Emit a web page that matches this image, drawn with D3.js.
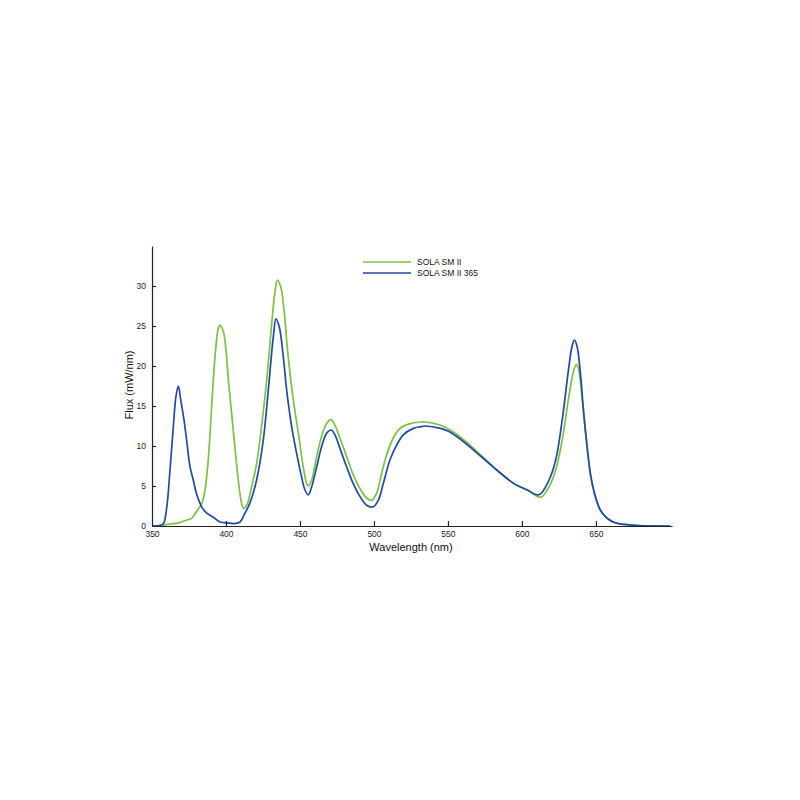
<!DOCTYPE html>
<html>
<head>
<meta charset="utf-8">
<script src="https://cdn.jsdelivr.net/npm/d3@7"></script>
<style>
  html, body { margin: 0; padding: 0; background: #fff; }
  svg { display: block; font-family: "Liberation Sans", Arial, Helvetica, sans-serif; }
</style>
</head>
<body>
<svg id="chart" width="800" height="800"></svg>
<script>
// ---- Data ----
const seriesNames = ["SOLA SM II", "SOLA SM II 365"];

const greenWavelength = [350, 357.7, 362, 367.8, 373.4, 376.8, 380, 383.6, 385.8, 388, 390.3, 392.6, 394.8, 396, 398.2, 400, 401.6, 403.8, 406, 408.3, 410.6, 412, 414, 417.3, 420.7, 424, 427.5, 430.9, 433, 434.7, 437, 439.2, 442, 445.5, 448.9, 452.2, 454.5, 455.6, 457.9, 461.3, 464.6, 468, 471, 473.6, 477, 481.5, 486, 490.5, 495, 498.4, 501.8, 505.2, 508.6, 513, 517.6, 524.3, 531, 535, 545, 550.7, 560.8, 572, 583, 594.6, 603.6, 612.7, 618.3, 622.8, 627.2, 631.7, 635.1, 636.9, 638.4, 640.6, 642.9, 645.1, 647.3, 650.7, 654, 658.5, 665.2, 680, 700];
const greenFlux = [0, 0.1, 0.25, 0.4, 0.75, 0.95, 1.8, 2.8, 4.5, 8.25, 14.9, 21.2, 24.7, 25.1, 24.3, 22, 18.25, 14.1, 9.9, 5.75, 2.8, 2.2, 2.6, 4.9, 7.8, 12.4, 18.25, 25.3, 29.1, 30.75, 29.9, 27, 21.2, 15.75, 11.6, 7.4, 5.3, 5.0, 5.75, 8.7, 11.2, 12.8, 13.3, 12.6, 11, 8.7, 6.4, 4.7, 3.5, 3.2, 4.1, 6.6, 8.9, 11, 12.2, 12.8, 13.0, 13.0, 12.6, 12.1, 10.75, 8.9, 7.0, 5.3, 4.5, 3.6, 4.9, 7, 10.75, 16.2, 19.5, 20.2, 19.5, 16.2, 12, 8.25, 5.3, 3.0, 1.7, 0.8, 0.3, 0.05, 0];

const blueWavelength = [350, 355, 357.7, 360, 362, 364.4, 366.2, 367.8, 369.4, 371.6, 373.4, 375.7, 377.9, 380, 383.6, 387, 391.4, 396, 400.5, 405, 409.5, 412.8, 416, 420.7, 425.2, 428.6, 432, 433.8, 436, 438.7, 441, 444.4, 447.7, 451, 453.4, 455.6, 457.9, 461.3, 464.6, 468, 471, 473.6, 477, 481.5, 486, 490.5, 495, 499.5, 503, 506.3, 510.8, 515.3, 519.8, 526.6, 531, 535, 545, 550.7, 560.8, 572, 583, 594.6, 603.6, 611.6, 618.3, 622.8, 627.2, 631.7, 634, 635.5, 637.3, 639.5, 641.7, 644, 646.2, 649.6, 652.9, 657.4, 663, 669.6, 678.6, 700];
const blueFlux = [0, 0.05, 0.3, 2.4, 6.6, 12.4, 16.2, 17.5, 15.8, 13.3, 10.75, 7.4, 5.75, 4.1, 2.4, 1.6, 1.1, 0.5, 0.4, 0.3, 0.5, 1.6, 2.8, 5.75, 10.75, 17, 23.7, 25.9, 24.9, 21.2, 17, 12.4, 9.1, 6.2, 4.5, 3.9, 4.9, 7.4, 9.9, 11.6, 12.0, 11.4, 9.7, 7.4, 5.3, 3.7, 2.6, 2.4, 3.25, 5.3, 8.25, 10.1, 11.4, 12.2, 12.4, 12.5, 12.2, 11.8, 10.5, 8.75, 7.0, 5.3, 4.5, 3.9, 5.75, 8.25, 13.25, 19.9, 22.6, 23.25, 22.4, 19.1, 14.1, 9.9, 6.6, 3.7, 2.0, 1.0, 0.4, 0.2, 0.05, 0];

const xTicks = [350, 400, 450, 500, 550, 600, 650];
const yTicks = [0, 5, 10, 15, 20, 25, 30];
const seriesColors = ["#7cc142", "#1f4aa6"];

// ---- Chart ----
const svg = d3.select("#chart");
const x = d3.scaleLinear().domain([350, 701.4]).range([152, 672]);
const y = d3.scaleLinear().domain([0, 35]).range([526, 246]);

const line = d3.line()
  .x(d => x(d[0]))
  .y(d => y(d[1]))
  .curve(d3.curveCatmullRom.alpha(0.5));

const series = [
  { name: seriesNames[0], pts: d3.zip(greenWavelength, greenFlux), color: seriesColors[0] },
  { name: seriesNames[1], pts: d3.zip(blueWavelength, blueFlux), color: seriesColors[1] }
];

series.forEach(s => {
  svg.append("path")
    .datum(s.pts)
    .attr("fill", "none")
    .attr("stroke", s.color)
    .attr("stroke-width", 1.7)
    .attr("stroke-linejoin", "round")
    .attr("d", line);
});

// X axis (ticks pointing inward)
const xAxis = svg.append("g")
  .attr("transform", `translate(0,${y(0)})`)
  .call(d3.axisBottom(x).tickValues(xTicks).tickFormat(d3.format("d"))
    .tickSizeInner(-5).tickSizeOuter(0).tickPadding(5));
xAxis.select(".domain").attr("stroke", "#222").attr("stroke-width", 1.2);
xAxis.selectAll(".tick line").attr("stroke", "#222").attr("stroke-width", 1.2);
xAxis.selectAll(".tick").filter(d => d === 350).select("line").remove();
xAxis.selectAll("text").attr("font-size", 8.5).attr("fill", "#222").attr("font-family", "Liberation Sans, Arial, sans-serif");

// Y axis (ticks pointing inward)
const yAxis = svg.append("g")
  .attr("transform", `translate(${x(350)},0)`)
  .call(d3.axisLeft(y).tickValues(yTicks).tickFormat(d3.format("d"))
    .tickSizeInner(-4).tickSizeOuter(0).tickPadding(6));
yAxis.select(".domain").attr("stroke", "#222").attr("stroke-width", 1.2);
yAxis.selectAll(".tick line").attr("stroke", "#222").attr("stroke-width", 1.2);
yAxis.selectAll(".tick").filter(d => d === 0).select("line").remove();
yAxis.selectAll("text").attr("font-size", 8.5).attr("fill", "#222").attr("font-family", "Liberation Sans, Arial, sans-serif");

// Axis titles
svg.append("text")
  .attr("x", 411).attr("y", 551)
  .attr("text-anchor", "middle")
  .attr("font-size", 11).attr("fill", "#111")
  .text("Wavelength (nm)");

svg.append("text")
  .attr("transform", `translate(133,385) rotate(-90)`)
  .attr("text-anchor", "middle")
  .attr("font-size", 11).attr("fill", "#111")
  .text("Flux (mW/nm)");

// Legend
const legend = svg.append("g");
series.forEach((s, i) => {
  const ly = 262 + i * 11;
  legend.append("line")
    .attr("x1", 363).attr("x2", 411)
    .attr("y1", ly).attr("y2", ly)
    .attr("stroke", s.color).attr("stroke-width", 1.6);
  legend.append("text")
    .attr("x", 417).attr("y", ly + 3)
    .attr("font-size", 8.5).attr("fill", "#111")
    .text(s.name);
});
</script>
</body>
</html>
